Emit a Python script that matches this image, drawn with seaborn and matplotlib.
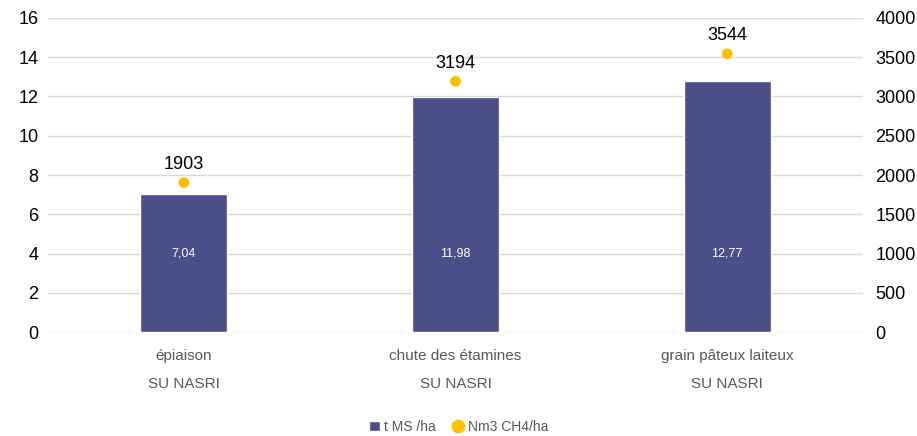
import matplotlib
matplotlib.use("Agg")
import matplotlib.pyplot as plt
import seaborn as sns
import pandas as pd
from matplotlib.lines import Line2D
from matplotlib.patches import Patch

# data
stades = ["épiaison", "chute des étamines", "grain pâteux laiteux"]
groupe = ["SU NASRI", "SU NASRI", "SU NASRI"]
t_ms = [7.04, 11.98, 12.77]
nm3_ch4 = [1903, 3194, 3544]

bar_color = "#4A4F8A"
point_color = "#FFC000"

sns.set_theme(style="white")
plt.rcParams['font.family'] = ['Liberation Sans', 'DejaVu Sans']

df = pd.DataFrame({"stade": stades, "t_ms": t_ms, "ch4": nm3_ch4})

fig = plt.figure(figsize=(9.17, 4.36), dpi=100)
ax = fig.add_axes([48 / 917, 1 - 332 / 436, 815 / 917, 314 / 436])

sns.barplot(data=df, x="stade", y="t_ms", color=bar_color, width=0.32,
            saturation=1, ax=ax)
ax.set_ylim(0, 16)
ax.set_yticks(range(0, 17, 2))
ax.grid(axis="y", color="#D9D9D9", linewidth=1)
ax.set_axisbelow(True)
for s in ax.spines.values():
    s.set_visible(False)
ax.set_xlabel("")
ax.set_ylabel("")
ax.set_xticks(range(len(stades)))
ax.set_xticklabels([f"{a}\n\n{b}" for a, b in zip(stades, groupe)],
                   color="#595959", fontsize=11, linespacing=1.0)
ax.tick_params(axis="x", length=0, pad=12)
ax.tick_params(axis="y", length=0, labelsize=13, pad=7, labelcolor="black")

for i, v in enumerate(t_ms):
    ax.text(i, 4, f"{v:.2f}".replace(".", ","), ha="center", va="center",
            color="white", fontsize=9)

ax2 = ax.twinx()
sns.scatterplot(data=df, x="stade", y="ch4", color=point_color, s=60,
                edgecolor="none", ax=ax2, zorder=5)
ax2.set_ylim(0, 4000)
ax2.set_yticks(range(0, 4001, 500))
for s in ax2.spines.values():
    s.set_visible(False)
ax2.set_ylabel("")
ax2.tick_params(axis="y", length=0, labelsize=13, pad=9, labelcolor="black")
ax2.grid(False)
for i, v in enumerate(nm3_ch4):
    ax2.text(i, v + 230, str(v), ha="center", va="center", color="black",
             fontsize=13)
ax.set_xlim(-0.5, 2.5)

handles = [Patch(facecolor=bar_color, label="t MS /ha"),
           Line2D([], [], marker="o", color="none", markerfacecolor=point_color,
                  markeredgecolor="none", markersize=10, label="Nm3 CH4/ha")]
fig.legend(handles=handles, loc="center", bbox_to_anchor=(0.5, 1 - 427 / 436),
           ncol=2, frameon=False, fontsize=10, handlelength=0.8,
           handletextpad=0.3, columnspacing=1.2, labelcolor="#595959")

fig.savefig("out.png", dpi=100)
